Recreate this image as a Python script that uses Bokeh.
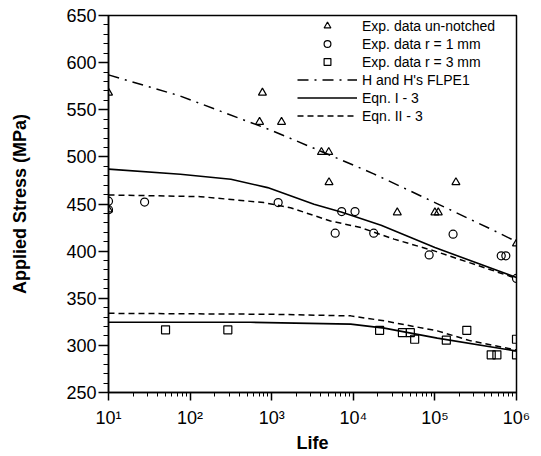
from bokeh.plotting import figure
from bokeh.models import (Range1d, FixedTicker, SingleIntervalTicker, CustomJSTickFormatter,
                          Legend, LegendItem)
from bokeh.embed import file_html
from bokeh.resources import INLINE

# ---------------- data ----------------
# Experimental data, un-notched
life_un = [10, 710, 770, 1320, 4070, 5000, 5040, 34600, 100000, 110000, 181000, 1000000, 10]
stress_un = [568, 537, 568, 537, 505, 505, 473, 441, 441, 441, 473, 408, 444]

# Experimental data r = 1 mm
life_r1 = [10, 10, 27.7, 1200, 6000, 7200, 10500, 17800, 85000, 167000, 650000, 740000, 1000000]
stress_r1 = [453, 444, 452, 451.5, 419, 442, 442, 419, 396, 418, 395, 395, 371]

# Experimental data r = 3 mm
life_r3 = [50, 290, 21000, 40000, 50000, 56500, 138000, 246000, 490000, 575000, 1000000, 1000000]
stress_r3 = [316.5, 316.5, 316, 313.5, 313.5, 306.5, 305.5, 316, 290, 290, 306.5, 290]

# H and H's FLPE1
life_flpe = [10, 76, 1000, 4000, 17800, 100000, 525000, 1000000]
stress_flpe = [587, 564.5, 528, 506, 482, 451.5, 422, 410]

# Eqn. I - 3 (r = 1 mm, upper; r = 3 mm, lower)
life_e1_up = [10, 76, 316, 890, 3300, 7100, 21900, 100000, 1000000]
stress_e1_up = [487, 481.6, 476.3, 467.4, 449.8, 441.6, 427.5, 403.8, 372]
life_e1_lo = [10, 550, 9300, 24000, 107000, 1000000]
stress_e1_lo = [324.5, 324.5, 322.5, 318.3, 307.7, 294]

# Eqn. II - 3
life_e2_up = [10, 135, 800, 1700, 5250, 12300, 31600, 100000, 1000000]
stress_e2_up = [459.6, 457.8, 451.5, 446, 432, 425, 412.7, 400, 371]
life_e2_lo = [10, 1000, 9300, 24000, 107000, 275000, 1000000]
stress_e2_lo = [334, 333, 331.3, 326, 315.4, 304.8, 295]

x_ticks = [10, 100, 1000, 10000, 100000, 1000000]
x_tick_labels = ["10\u00b9", "10\u00b2", "10\u00b3", "10\u2074", "10\u2075", "10\u2076"]
x_minor = [m * d for d in [10, 100, 1000, 10000, 100000] for m in range(2, 10)]

FONT = "Liberation Sans"

p = figure(width=533, height=455, x_axis_type="log",
           x_range=Range1d(10, 1000000), y_range=Range1d(250, 650),
           output_backend="svg", toolbar_location=None,
           min_border_left=108, min_border_right=17, min_border_top=15, min_border_bottom=63)
p.xgrid.visible = False
p.ygrid.visible = False
p.outline_line_color = "black"
p.outline_line_width = 1.5
p.background_fill_color = "white"
p.border_fill_color = "white"

# curves
r_flpe = p.line(life_flpe, stress_flpe, line_color="black", line_width=1.5, line_dash="11 6 2 6")
r_e1 = p.line(life_e1_up, stress_e1_up, line_color="black", line_width=1.6)
p.line(life_e1_lo, stress_e1_lo, line_color="black", line_width=1.6)
r_e2 = p.line(life_e2_up, stress_e2_up, line_color="black", line_width=1.5, line_dash="6 4")
p.line(life_e2_lo, stress_e2_lo, line_color="black", line_width=1.5, line_dash="6 4")

# data points
r_un = p.scatter(life_un, stress_un, marker="triangle", size=8, fill_alpha=0,
                 line_color="black", line_width=1.2)
r_r1 = p.scatter(life_r1, stress_r1, marker="circle", size=8, fill_alpha=0,
                 line_color="black", line_width=1.2)
r_r3 = p.scatter(life_r3, stress_r3, marker="square", size=8, fill_alpha=0,
                 line_color="black", line_width=1.2)

# axes
xa = p.xaxis[0]
xa.ticker = FixedTicker(ticks=x_ticks, minor_ticks=x_minor)
xa.formatter = CustomJSTickFormatter(args=dict(tvals=x_ticks, tlabels=x_tick_labels), code="""
let best = 0;
const lt = Math.log10(tick);
for (let i = 0; i < tvals.length; i++) {
  if (Math.abs(Math.log10(tvals[i]) - lt) < Math.abs(Math.log10(tvals[best]) - lt)) best = i;
}
return tlabels[best];
""")
xa.axis_label = "Life"
xa.major_tick_out = 8
xa.major_tick_in = 0
xa.minor_tick_out = 4
xa.minor_tick_in = 0
xa.major_label_standoff = 7
xa.axis_label_standoff = 2

ya = p.yaxis[0]
ya.ticker = SingleIntervalTicker(interval=50, num_minor_ticks=5)
ya.axis_label = "Applied Stress (MPa)"
ya.major_tick_out = 10
ya.major_tick_in = 0
ya.minor_tick_out = 5
ya.minor_tick_in = 0
ya.major_label_standoff = 2
ya.axis_label_standoff = 33

for ax in (xa, ya):
    ax.axis_line_color = "black"
    ax.axis_line_width = 1.5
    ax.major_tick_line_color = "black"
    ax.major_tick_line_width = 1.5
    ax.minor_tick_line_color = "black"
    ax.minor_tick_line_width = 1
    ax.major_label_text_font = FONT
    ax.major_label_text_font_size = "18px"
    ax.major_label_text_color = "black"
    ax.axis_label_text_font = FONT
    ax.axis_label_text_font_style = "bold"
    ax.axis_label_text_font_size = "18px"
    ax.axis_label_text_color = "black"

legend = Legend(items=[
    LegendItem(label="Exp. data un-notched", renderers=[r_un]),
    LegendItem(label="Exp. data r = 1 mm", renderers=[r_r1]),
    LegendItem(label="Exp. data r = 3 mm", renderers=[r_r3]),
    LegendItem(label="H and H's FLPE1", renderers=[r_flpe]),
    LegendItem(label="Eqn. I - 3", renderers=[r_e1]),
    LegendItem(label="Eqn. II - 3", renderers=[r_e2]),
], location=(189, 268))
legend.padding = 0
legend.margin = 0
legend.spacing = 1
legend.glyph_width = 60
legend.glyph_height = 17
legend.label_height = 17
legend.label_standoff = 5
legend.label_text_font = FONT
legend.label_text_font_size = "14px"
legend.label_text_color = "black"
legend.border_line_alpha = 0
legend.background_fill_alpha = 0
p.add_layout(legend)

open("out.html", "w").write(file_html(p, INLINE))
